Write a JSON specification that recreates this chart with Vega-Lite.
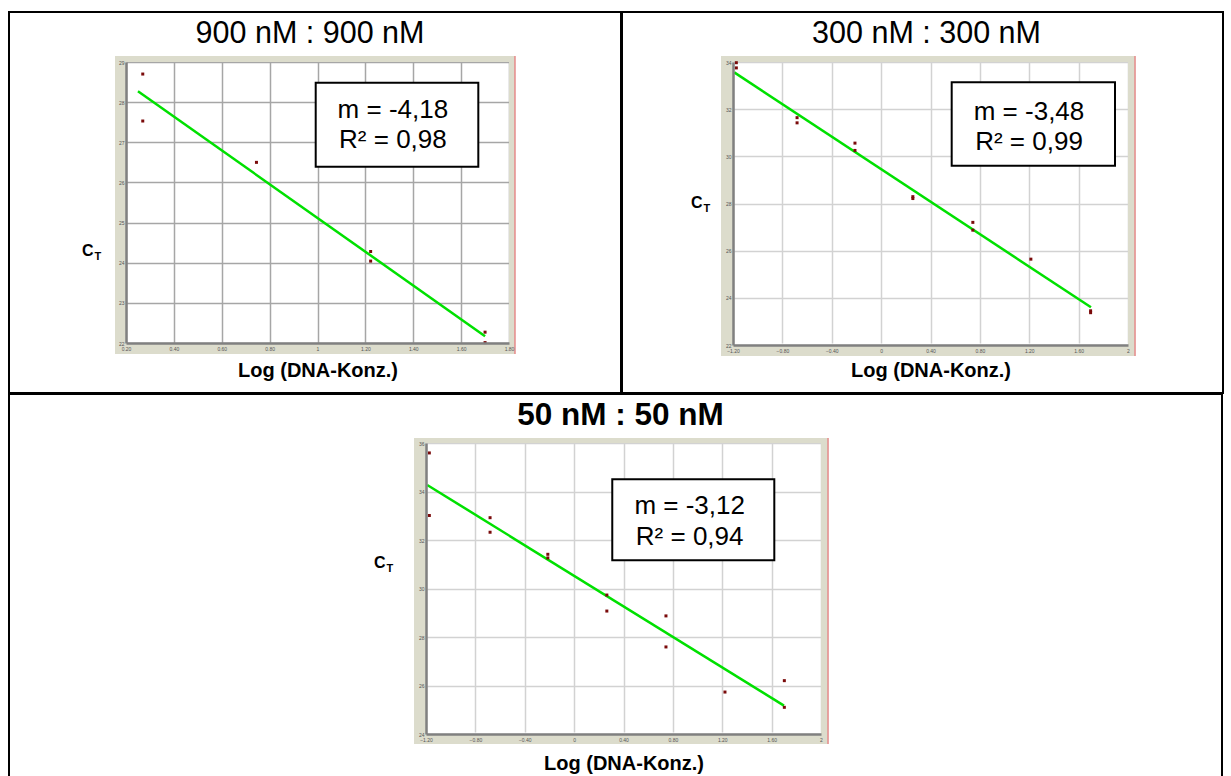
{
  "$schema": "https://vega.github.io/schema/vega-lite/v6.json",
  "padding": {"left": 8, "top": 11, "right": 0, "bottom": 0},
  "background": "#ffffff",
  "spacing": -2,
  "config": {
    "font": "Liberation Sans",
    "view": {"stroke": "#000000", "strokeWidth": 2, "fill": "#ffffff"},
    "axis": {"labelFont": "Liberation Sans", "titleFont": "Liberation Sans", "labelOverlap": false},
    "title": {"font": "Liberation Sans"}
  },
  "vconcat": [
    {
      "spacing": -2,
      "hconcat": [
        {
          "width": 612,
          "height": 381,
          "title": {"text": "900 nM : 900 nM", "fontSize": 30.5, "fontWeight": "normal", "anchor": "middle", "frame": "group", "baseline": "alphabetic", "offset": -31, "dy": 30, "dx": -5, "color": "#000000"},
          "layer": [
            {"data": {"values": [{}]}, "mark": {"type": "rect", "color": "#dcdccc"}, "encoding": {"x": {"datum": 0.154, "type": "quantitative", "axis": null}, "x2": {"datum": 1.825}, "y": {"datum": 29, "type": "quantitative", "axis": null}, "y2": {"datum": 29.15}}},
            {"data": {"values": [{}]}, "mark": {"type": "rect", "color": "#dcdccc"}, "encoding": {"x": {"datum": 0.154, "type": "quantitative", "axis": null}, "x2": {"datum": 1.825}, "y": {"datum": 21.726, "type": "quantitative", "axis": null}, "y2": {"datum": 22}}},
            {"data": {"values": [{}]}, "mark": {"type": "rect", "color": "#dcdccc"}, "encoding": {"x": {"datum": 0.154, "type": "quantitative", "axis": null}, "x2": {"datum": 0.2}, "y": {"datum": 22, "type": "quantitative", "axis": null}, "y2": {"datum": 29}}},
            {"data": {"values": [{}]}, "mark": {"type": "rect", "color": "#dcdccc"}, "encoding": {"x": {"datum": 1.8, "type": "quantitative", "axis": null}, "x2": {"datum": 1.825}, "y": {"datum": 22, "type": "quantitative", "axis": null}, "y2": {"datum": 29}}},
            {"data": {"values": [{}]}, "mark": {"type": "rule", "color": "#e58a8a", "strokeWidth": 1.5}, "encoding": {"x": {"datum": 1.825, "type": "quantitative", "axis": null}, "y": {"datum": 21.726, "type": "quantitative", "axis": null}, "y2": {"datum": 29.15}}},
            {
              "data": {"values": [{"logc": 0.25, "ct": 28.27}, {"logc": 1.70, "ct": 22.17}]},
              "mark": {"type": "line", "color": "#00e000", "strokeWidth": 2.5},
              "encoding": {
                "x": {"field": "logc", "type": "quantitative", "axis": {"orient": "bottom", "offset": -50, "grid": true, "gridColor": "#a6a6a6", "gridWidth": 1.5, "labels": false, "ticks": false, "domain": false, "title": null, "values": [0.2, 0.4, 0.6, 0.8, 1, 1.2, 1.4, 1.6, 1.8], "zindex": 0}},
                "y": {"field": "ct", "type": "quantitative", "axis": {"orient": "left", "offset": -117, "grid": true, "gridColor": "#a6a6a6", "gridWidth": 1.5, "labels": false, "ticks": false, "domain": false, "title": null, "values": [22, 23, 24, 25, 26, 27, 28, 29], "zindex": 0}}
              }
            },
            {
              "data": {"values": [
                {"logc": 0.27, "ct": 28.70}, {"logc": 0.27, "ct": 27.53},
                {"logc": 0.745, "ct": 26.50},
                {"logc": 1.222, "ct": 24.28}, {"logc": 1.222, "ct": 24.04},
                {"logc": 1.70, "ct": 22.27}, {"logc": 1.70, "ct": 22.01}
              ]},
              "mark": {"type": "point", "shape": "square", "filled": true, "size": 9, "color": "#7a0a0a", "opacity": 1},
              "encoding": {
                "x": {"field": "logc", "type": "quantitative", "scale": {"domain": [0.2, 1.8], "range": [117, 500], "nice": false, "zero": false},
                  "axis": {"orient": "bottom", "offset": -50, "grid": false, "title": "Log (DNA-Konz.)", "titleFontSize": 20, "titleFontWeight": "bold", "titleColor": "#000000", "titleBaseline": "alphabetic", "titleY": 33, "values": [0.2, 0.4, 0.6, 0.8, 1, 1.2, 1.4, 1.6, 1.8], "labelExpr": "abs(datum.value - round(datum.value)) < 0.000001 ? format(datum.value, 'd') : format(datum.value, '.2f')", "labelFontSize": 5, "labelColor": "#555555", "labelPadding": 3, "labelFlush": false, "ticks": false, "domain": true, "domainColor": "#808080", "domainWidth": 2.5, "zindex": 1}},
                "y": {"field": "ct", "type": "quantitative", "scale": {"domain": [22, 29], "range": [331, 50], "nice": false, "zero": false},
                  "axis": {"orient": "left", "offset": -117, "grid": false, "title": "C", "titleFontSize": 16, "titleFontWeight": "bold", "titleColor": "#000000", "titleAngle": 0, "titleAlign": "right", "titleBaseline": "alphabetic", "titleX": -33, "titleY": 243, "values": [22, 23, 24, 25, 26, 27, 28, 29], "format": "d", "labelFontSize": 5, "labelColor": "#555555", "labelPadding": 2, "ticks": false, "domain": true, "domainColor": "#808080", "domainWidth": 2.5, "zindex": 1}}
              }
            },
            {"data": {"values": [{}]}, "mark": {"type": "rect", "fill": "#ffffff", "stroke": "#000000", "strokeWidth": 2}, "encoding": {"x": {"datum": 0.9925, "type": "quantitative", "axis": null}, "x2": {"datum": 1.6718}, "y": {"datum": 28.484, "type": "quantitative", "axis": {"orient": "left", "offset": -117, "grid": false, "title": "T", "titleFontSize": 11, "titleFontWeight": "bold", "titleColor": "#000000", "titleAngle": 0, "titleAlign": "left", "titleBaseline": "alphabetic", "titleX": -32, "titleY": 247, "labels": false, "ticks": false, "domain": false, "zindex": 1}}, "y2": {"datum": 26.392}}},
            {"data": {"values": [{}]}, "mark": {"type": "text", "text": ["m = -4,18", "R² = 0,98"], "fontSize": 26, "lineHeight": 30, "align": "center", "baseline": "middle", "color": "#000000"}, "encoding": {"x": {"datum": 1.315, "type": "quantitative", "axis": null}, "y": {"datum": 27.80, "type": "quantitative", "axis": null}}}
          ],
          "resolve": {"axis": {"x": "independent", "y": "independent"}}
        },
        {
          "width": 601,
          "height": 381,
          "title": {"text": "300 nM : 300 nM", "fontSize": 30.5, "fontWeight": "normal", "anchor": "middle", "frame": "group", "baseline": "alphabetic", "offset": -31, "dy": 30, "dx": 4, "color": "#000000"},
          "layer": [
            {"data": {"values": [{}]}, "mark": {"type": "rect", "color": "#dcdccc"}, "encoding": {"x": {"datum": -1.297, "type": "quantitative", "axis": null}, "x2": {"datum": 2.057}, "y": {"datum": 34, "type": "quantitative", "axis": null}, "y2": {"datum": 34.254}}},
            {"data": {"values": [{}]}, "mark": {"type": "rect", "color": "#dcdccc"}, "encoding": {"x": {"datum": -1.297, "type": "quantitative", "axis": null}, "x2": {"datum": 2.057}, "y": {"datum": 21.534, "type": "quantitative", "axis": null}, "y2": {"datum": 22}}},
            {"data": {"values": [{}]}, "mark": {"type": "rect", "color": "#dcdccc"}, "encoding": {"x": {"datum": -1.297, "type": "quantitative", "axis": null}, "x2": {"datum": -1.2}, "y": {"datum": 22, "type": "quantitative", "axis": null}, "y2": {"datum": 34}}},
            {"data": {"values": [{}]}, "mark": {"type": "rect", "color": "#dcdccc"}, "encoding": {"x": {"datum": 2, "type": "quantitative", "axis": null}, "x2": {"datum": 2.057}, "y": {"datum": 22, "type": "quantitative", "axis": null}, "y2": {"datum": 34}}},
            {"data": {"values": [{}]}, "mark": {"type": "rule", "color": "#e58a8a", "strokeWidth": 1.5}, "encoding": {"x": {"datum": 2.057, "type": "quantitative", "axis": null}, "y": {"datum": 21.534, "type": "quantitative", "axis": null}, "y2": {"datum": 34.254}}},
            {
              "data": {"values": [{"logc": -1.19, "ct": 33.56}, {"logc": 1.70, "ct": 23.60}]},
              "mark": {"type": "line", "color": "#00e000", "strokeWidth": 2.5},
              "encoding": {
                "x": {"field": "logc", "type": "quantitative", "axis": {"orient": "bottom", "offset": -48, "grid": true, "gridColor": "#d2d2d2", "gridWidth": 1.5, "labels": false, "ticks": false, "domain": false, "title": null, "values": [-1.2, -0.8, -0.4, 0, 0.4, 0.8, 1.2, 1.6, 2], "zindex": 0}},
                "y": {"field": "ct", "type": "quantitative", "axis": {"orient": "left", "offset": -111, "grid": true, "gridColor": "#d2d2d2", "gridWidth": 1.5, "labels": false, "ticks": false, "domain": false, "title": null, "values": [22, 24, 26, 28, 30, 32, 34], "zindex": 0}}
              }
            },
            {
              "data": {"values": [
                {"logc": -1.173, "ct": 33.97}, {"logc": -1.173, "ct": 33.75},
                {"logc": -0.681, "ct": 31.64}, {"logc": -0.681, "ct": 31.42},
                {"logc": -0.212, "ct": 30.56}, {"logc": -0.212, "ct": 30.25},
                {"logc": 0.257, "ct": 28.29}, {"logc": 0.257, "ct": 28.21},
                {"logc": 0.743, "ct": 27.20}, {"logc": 0.743, "ct": 26.87},
                {"logc": 1.213, "ct": 25.64},
                {"logc": 1.697, "ct": 23.45}, {"logc": 1.697, "ct": 23.37}
              ]},
              "mark": {"type": "point", "shape": "square", "filled": true, "size": 9, "color": "#7a0a0a", "opacity": 1},
              "encoding": {
                "x": {"field": "logc", "type": "quantitative", "scale": {"domain": [-1.2, 2], "range": [111, 506], "nice": false, "zero": false},
                  "axis": {"orient": "bottom", "offset": -48, "grid": false, "title": "Log (DNA-Konz.)", "titleFontSize": 20, "titleFontWeight": "bold", "titleColor": "#000000", "titleBaseline": "alphabetic", "titleY": 31, "values": [-1.2, -0.8, -0.4, 0, 0.4, 0.8, 1.2, 1.6, 2], "labelExpr": "abs(datum.value - round(datum.value)) < 0.000001 ? format(datum.value, 'd') : format(datum.value, '.2f')", "labelFontSize": 5, "labelColor": "#555555", "labelPadding": 3, "labelFlush": false, "ticks": false, "domain": true, "domainColor": "#808080", "domainWidth": 2.5, "zindex": 1}},
                "y": {"field": "ct", "type": "quantitative", "scale": {"domain": [22, 34], "range": [333, 50], "nice": false, "zero": false},
                  "axis": {"orient": "left", "offset": -111, "grid": false, "title": "C", "titleFontSize": 16, "titleFontWeight": "bold", "titleColor": "#000000", "titleAngle": 0, "titleAlign": "right", "titleBaseline": "alphabetic", "titleX": -31, "titleY": 195, "values": [22, 24, 26, 28, 30, 32, 34], "format": "d", "labelFontSize": 5, "labelColor": "#555555", "labelPadding": 2, "ticks": false, "domain": true, "domainColor": "#808080", "domainWidth": 2.5, "zindex": 1}}
              }
            },
            {"data": {"values": [{}]}, "mark": {"type": "rect", "fill": "#ffffff", "stroke": "#000000", "strokeWidth": 2}, "encoding": {"x": {"datum": 0.5717, "type": "quantitative", "axis": null}, "x2": {"datum": 1.8947}, "y": {"datum": 33.139, "type": "quantitative", "axis": {"orient": "left", "offset": -111, "grid": false, "title": "T", "titleFontSize": 11, "titleFontWeight": "bold", "titleColor": "#000000", "titleAngle": 0, "titleAlign": "left", "titleBaseline": "alphabetic", "titleX": -30, "titleY": 199, "labels": false, "ticks": false, "domain": false, "zindex": 1}}, "y2": {"datum": 29.603}}},
            {"data": {"values": [{}]}, "mark": {"type": "text", "text": ["m = -3,48", "R² = 0,99"], "fontSize": 26, "lineHeight": 30, "align": "center", "baseline": "middle", "color": "#000000"}, "encoding": {"x": {"datum": 1.198, "type": "quantitative", "axis": null}, "y": {"datum": 31.893, "type": "quantitative", "axis": null}}}
          ],
          "resolve": {"axis": {"x": "independent", "y": "independent"}}
        }
      ]
    },
    {
      "width": 1213,
      "height": 387,
      "title": {"text": "50 nM : 50 nM", "fontSize": 31.5, "fontWeight": "bold", "anchor": "middle", "frame": "group", "baseline": "alphabetic", "offset": -31, "dy": 31, "dx": 5, "color": "#000000"},
      "layer": [
        {"data": {"values": [{}]}, "mark": {"type": "rect", "color": "#dcdccc"}, "encoding": {"x": {"datum": -1.297, "type": "quantitative", "axis": null}, "x2": {"datum": 2.057}, "y": {"datum": 36, "type": "quantitative", "axis": null}, "y2": {"datum": 36.206}}},
        {"data": {"values": [{}]}, "mark": {"type": "rect", "color": "#dcdccc"}, "encoding": {"x": {"datum": -1.297, "type": "quantitative", "axis": null}, "x2": {"datum": 2.057}, "y": {"datum": 23.588, "type": "quantitative", "axis": null}, "y2": {"datum": 24}}},
        {"data": {"values": [{}]}, "mark": {"type": "rect", "color": "#dcdccc"}, "encoding": {"x": {"datum": -1.297, "type": "quantitative", "axis": null}, "x2": {"datum": -1.2}, "y": {"datum": 24, "type": "quantitative", "axis": null}, "y2": {"datum": 36}}},
        {"data": {"values": [{}]}, "mark": {"type": "rect", "color": "#dcdccc"}, "encoding": {"x": {"datum": 2, "type": "quantitative", "axis": null}, "x2": {"datum": 2.057}, "y": {"datum": 24, "type": "quantitative", "axis": null}, "y2": {"datum": 36}}},
        {"data": {"values": [{}]}, "mark": {"type": "rule", "color": "#e58a8a", "strokeWidth": 1.5}, "encoding": {"x": {"datum": 2.057, "type": "quantitative", "axis": null}, "y": {"datum": 23.588, "type": "quantitative", "axis": null}, "y2": {"datum": 36.206}}},
        {
          "data": {"values": [{"logc": -1.19, "ct": 34.27}, {"logc": 1.70, "ct": 25.17}]},
          "mark": {"type": "line", "color": "#00e000", "strokeWidth": 2.5},
          "encoding": {
            "x": {"field": "logc", "type": "quantitative", "axis": {"orient": "bottom", "offset": -47, "grid": true, "gridColor": "#d2d2d2", "gridWidth": 1.5, "labels": false, "ticks": false, "domain": false, "title": null, "values": [-1.2, -0.8, -0.4, 0, 0.4, 0.8, 1.2, 1.6, 2], "zindex": 0}},
            "y": {"field": "ct", "type": "quantitative", "axis": {"orient": "left", "offset": -417, "grid": true, "gridColor": "#d2d2d2", "gridWidth": 1.5, "labels": false, "ticks": false, "domain": false, "title": null, "values": [24, 26, 28, 30, 32, 34, 36], "zindex": 0}}
          }
        },
        {
          "data": {"values": [
            {"logc": -1.173, "ct": 35.59}, {"logc": -1.173, "ct": 33.01},
            {"logc": -0.681, "ct": 32.92}, {"logc": -0.681, "ct": 32.32},
            {"logc": -0.213, "ct": 31.41}, {"logc": -0.213, "ct": 31.26},
            {"logc": 0.265, "ct": 29.73}, {"logc": 0.265, "ct": 29.07},
            {"logc": 0.744, "ct": 28.87}, {"logc": 0.744, "ct": 27.59},
            {"logc": 1.222, "ct": 25.73},
            {"logc": 1.703, "ct": 26.20}, {"logc": 1.703, "ct": 25.10}
          ]},
          "mark": {"type": "point", "shape": "square", "filled": true, "size": 9, "color": "#7a0a0a", "opacity": 1},
          "encoding": {
            "x": {"field": "logc", "type": "quantitative", "scale": {"domain": [-1.2, 2], "range": [417, 812], "nice": false, "zero": false},
              "axis": {"orient": "bottom", "offset": -47, "grid": false, "title": "Log (DNA-Konz.)", "titleFontSize": 20, "titleFontWeight": "bold", "titleColor": "#000000", "titleBaseline": "alphabetic", "titleY": 35, "values": [-1.2, -0.8, -0.4, 0, 0.4, 0.8, 1.2, 1.6, 2], "labelExpr": "abs(datum.value - round(datum.value)) < 0.000001 ? format(datum.value, 'd') : format(datum.value, '.2f')", "labelFontSize": 5, "labelColor": "#555555", "labelPadding": 3, "labelFlush": false, "ticks": false, "domain": true, "domainColor": "#808080", "domainWidth": 2.5, "zindex": 1}},
            "y": {"field": "ct", "type": "quantitative", "scale": {"domain": [24, 36], "range": [340, 49], "nice": false, "zero": false},
              "axis": {"orient": "left", "offset": -417, "grid": false, "title": "C", "titleFontSize": 16, "titleFontWeight": "bold", "titleColor": "#000000", "titleAngle": 0, "titleAlign": "right", "titleBaseline": "alphabetic", "titleX": -41, "titleY": 173, "values": [24, 26, 28, 30, 32, 34, 36], "format": "d", "labelFontSize": 5, "labelColor": "#555555", "labelPadding": 2, "ticks": false, "domain": true, "domainColor": "#808080", "domainWidth": 2.5, "zindex": 1}}
          }
        },
        {"data": {"values": [{}]}, "mark": {"type": "rect", "fill": "#ffffff", "stroke": "#000000", "strokeWidth": 2}, "encoding": {"x": {"datum": 0.309, "type": "quantitative", "axis": null}, "x2": {"datum": 1.6217}, "y": {"datum": 34.503, "type": "quantitative", "axis": {"orient": "left", "offset": -417, "grid": false, "title": "T", "titleFontSize": 11, "titleFontWeight": "bold", "titleColor": "#000000", "titleAngle": 0, "titleAlign": "left", "titleBaseline": "alphabetic", "titleX": -40, "titleY": 177, "labels": false, "ticks": false, "domain": false, "zindex": 1}}, "y2": {"datum": 31.163}}},
        {"data": {"values": [{}]}, "mark": {"type": "text", "text": ["m = -3,12", "R² = 0,94"], "fontSize": 26, "lineHeight": 31, "align": "center", "baseline": "middle", "color": "#000000"}, "encoding": {"x": {"datum": 0.936, "type": "quantitative", "axis": null}, "y": {"datum": 33.40, "type": "quantitative", "axis": null}}}
      ],
      "resolve": {"axis": {"x": "independent", "y": "independent"}}
    }
  ]
}
